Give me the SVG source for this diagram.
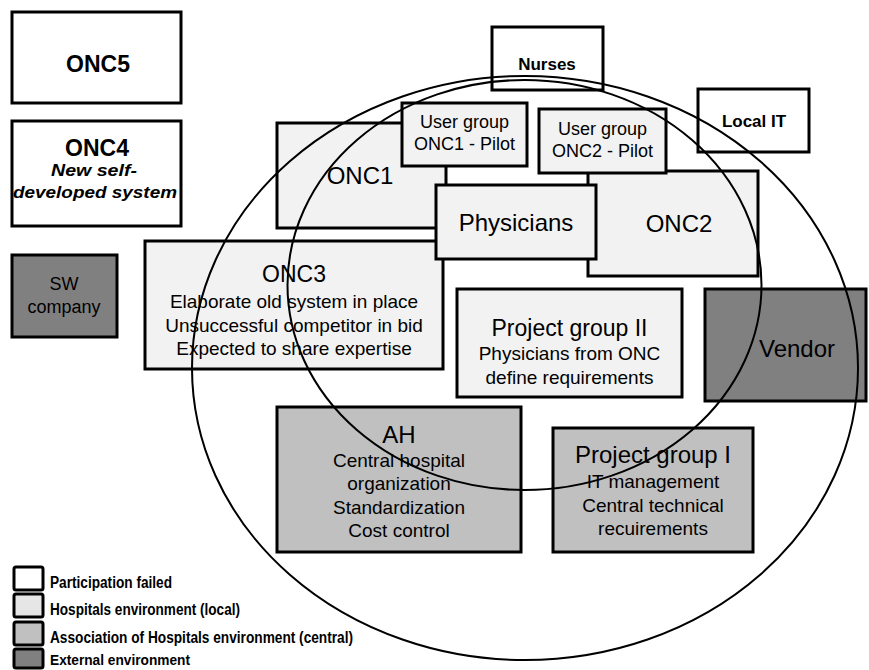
<svg xmlns="http://www.w3.org/2000/svg" width="869" height="670" viewBox="0 0 869 670">
<style>
.box{stroke:#000;stroke-width:3}
.failed{fill:#fff}
.local{fill:#f2f2f2}
.central{fill:#c0c0c0}
.ext{fill:#808080}
text{font-family:"Liberation Sans",Arial,sans-serif;fill:#000;text-anchor:middle}
.h{font-size:24px}
.b{font-size:19px}
.u{font-size:18px}
.bd{font-weight:bold}
.it{font-style:italic}
.lg{font-size:16px;font-weight:bold;text-anchor:start}
.ring{fill:none;stroke:#000;stroke-width:2}
.leg{stroke:#000;stroke-width:3}
</style>
<rect width="869" height="670" fill="#fff"/>
<g id="ONC5"><rect class="box failed" x="12" y="12" width="169" height="91"/><text class="bd" style="font-size:23px" x="98" y="72">ONC5</text></g>
<g id="ONC4"><rect class="box failed" x="12" y="121" width="169" height="105"/><text class="bd" style="font-size:23px" x="97" y="156">ONC4</text><text class="bd it" style="font-size:17px" x="94" y="176" textLength="86" lengthAdjust="spacingAndGlyphs">New self-</text><text class="bd it" style="font-size:17px" x="95" y="198" textLength="164" lengthAdjust="spacingAndGlyphs">developed system</text></g>
<g id="SWcompany"><rect class="box ext" x="12" y="255" width="105" height="82"/><text class="u" x="64" y="290">SW</text><text class="u" x="64" y="313">company</text></g>
<g id="ONC1"><rect class="box local" x="277" y="123" width="169" height="105"/><text class="h" x="360" y="184">ONC1</text></g>
<g id="ONC2"><rect class="box local" x="588" y="171" width="170" height="105"/><text class="h" x="679" y="232">ONC2</text></g>
<g id="ONC3"><rect class="box local" x="145" y="241" width="298" height="128"/><text style="font-size:23px" x="294" y="282">ONC3</text><text class="b" x="294" y="308">Elaborate old system in place</text><text class="b" x="294" y="332">Unsuccessful competitor in bid</text><text class="b" x="294" y="355">Expected to share expertise</text></g>
<g id="UserGroupONC1"><rect class="box local" x="402" y="103" width="125" height="63"/><text class="u" x="464.5" y="128">User group</text><text class="u" x="464.5" y="150">ONC1 - Pilot</text></g>
<g id="UserGroupONC2"><rect class="box local" x="539" y="109" width="127" height="64"/><text class="u" x="602.5" y="135">User group</text><text class="u" x="602.5" y="157">ONC2 - Pilot</text></g>
<g id="Physicians"><rect class="box local" x="436" y="185" width="160" height="74"/><text class="h" x="516" y="231">Physicians</text></g>
<g id="Nurses"><rect class="box failed" x="492" y="27" width="111" height="63"/><text class="bd" style="font-size:17px" x="547" y="70">Nurses</text></g>
<g id="LocalIT"><rect class="box failed" x="698" y="89" width="111" height="63"/><text class="bd" style="font-size:17px" x="754" y="127">Local IT</text></g>
<g id="ProjectGroupII"><rect class="box local" x="457" y="289" width="225" height="108"/><text style="font-size:23px" x="569.5" y="336">Project group II</text><text class="b" x="569.5" y="360">Physicians from ONC</text><text class="b" x="569.5" y="384">define requirements</text></g>
<g id="Vendor"><rect class="box ext" x="705" y="289" width="161" height="112"/><text class="h" x="797" y="357">Vendor</text></g>
<g id="AH"><rect class="box central" x="277" y="407" width="244" height="145"/><text class="h" x="399" y="443">AH</text><text class="b" x="399" y="467">Central hospital</text><text class="b" x="399" y="490">organization</text><text class="b" x="399" y="514">Standardization</text><text class="b" x="399" y="537">Cost control</text></g>
<g id="ProjectGroupI"><rect class="box central" x="553" y="428" width="200" height="124"/><text class="h" x="653" y="463">Project group I</text><text class="b" x="653" y="488">IT management</text><text class="b" x="653" y="512">Central technical</text><text class="b" x="653" y="535">recuirements</text></g>
<g id="connectors">
<ellipse class="ring" cx="525" cy="368" rx="333" ry="292"/>
<ellipse class="ring" cx="524.5" cy="285" rx="237" ry="205"/>
</g>
<g id="legend">
<rect class="leg failed" x="14" y="567" width="29" height="23" rx="2"/>
<rect class="leg" fill="#e6e6e6" x="14" y="594" width="29" height="23" rx="2"/>
<rect class="leg central" x="14" y="622" width="29" height="23" rx="2"/>
<rect class="leg ext" x="14" y="649" width="29" height="19" rx="2"/>
<text class="lg" x="50" y="588" textLength="122" lengthAdjust="spacingAndGlyphs">Participation failed</text>
<text class="lg" x="50" y="615" textLength="190" lengthAdjust="spacingAndGlyphs">Hospitals environment (local)</text>
<text class="lg" x="50" y="643" textLength="303" lengthAdjust="spacingAndGlyphs">Association of Hospitals environment (central)</text>
<text class="lg" style="font-size:15px" x="50" y="665" textLength="140" lengthAdjust="spacingAndGlyphs">External environment</text>
</g>
</svg>
